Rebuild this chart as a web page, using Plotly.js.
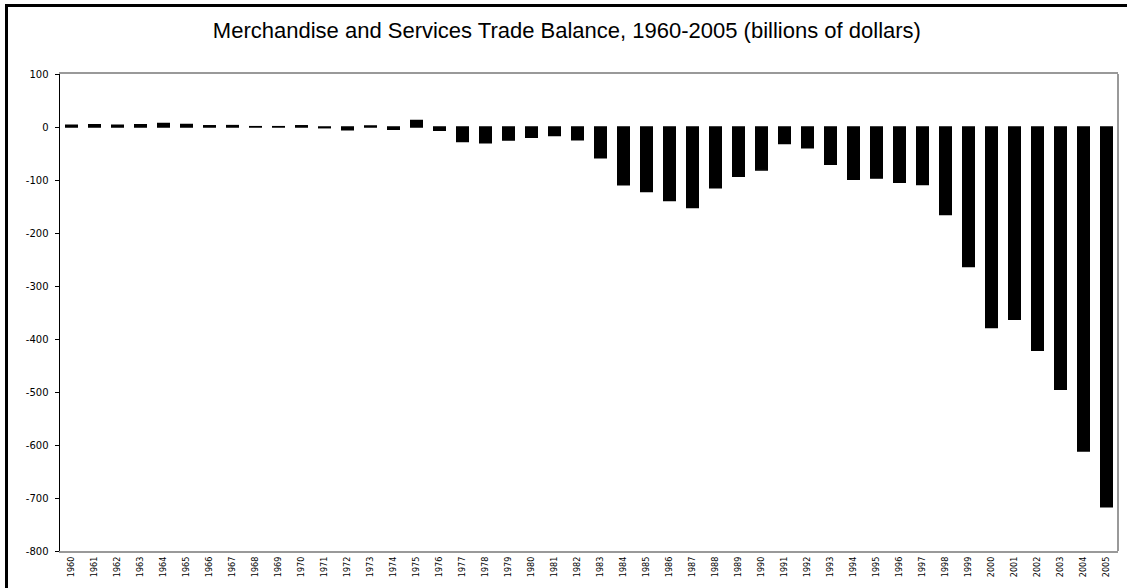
<!DOCTYPE html>
<html>
<head>
<meta charset="utf-8">
<script src="https://cdn.plot.ly/plotly-3.0.1.min.js"></script>
<style>
html, body { margin: 0; padding: 0; overflow: hidden; background: #fff; }
#chart { position: absolute; left: 0; top: 0; width: 1127px; height: 588px; }
#frame { position: absolute; left: 5px; top: 4px; width: 1200px; height: 700px;
  border-left: 3px solid #000; border-top: 3px solid #000; pointer-events: none; }
</style>
</head>
<body>
<div id="chart"></div>
<div id="frame"></div>
<script>
const years = ["1960","1961","1962","1963","1964","1965","1966","1967","1968","1969",
  "1970","1971","1972","1973","1974","1975","1976","1977","1978","1979",
  "1980","1981","1982","1983","1984","1985","1986","1987","1988","1989",
  "1990","1991","1992","1993","1994","1995","1996","1997","1998","1999",
  "2000","2001","2002","2003","2004","2005"];
const balance = [3.5, 4.2, 3.4, 4.2, 6.8, 4.9, 2.3, 2.6, 0.6, 0.6,
  2.3, -1.3, -5.4, 1.9, -4.3, 12.4, -6.1, -27.2, -29.8, -24.6,
  -19.4, -16.2, -24.2, -57.8, -109.1, -121.9, -138.5, -151.7, -114.6, -93.1,
  -80.9, -31.1, -39.2, -70.3, -98.5, -96.4, -104.1, -108.3, -164.9, -263.2,
  -378.3, -362.7, -421.2, -494.8, -611.3, -716.7];
const yTicks = [100, 0, -100, -200, -300, -400, -500, -600, -700, -800];
const titleText = "Merchandise and Services Trade Balance, 1960-2005 (billions of dollars)";

const trace = {
  type: "bar",
  x: years,
  y: balance,
  marker: { color: "#000000", line: { color: "#000000", width: 1.5 } },
  hoverinfo: "x+y"
};

const layout = {
  width: 1127,
  height: 588,
  margin: { l: 60, r: 9, t: 74, b: 37, pad: 0 },
  paper_bgcolor: "rgba(0,0,0,0)",
  plot_bgcolor: "#ffffff",
  showlegend: false,
  bargap: 0.5,
  title: {
    text: titleText,
    font: { family: "Liberation Sans, Arial, sans-serif", size: 22, color: "#000" },
    x: 0.503, xanchor: "center",
    y: 1 - 30 / 588, yanchor: "middle", yref: "container"
  },
  xaxis: {
    type: "category",
    showline: true, linecolor: "#999999", linewidth: 2, mirror: true,
    showgrid: false, zeroline: false,
    ticks: "", tickangle: -90,
    tickfont: { family: "DejaVu Sans Condensed, sans-serif", size: 9, color: "#000" },
    automargin: false
  },
  yaxis: {
    range: [-800, 100],
    tickvals: yTicks,
    ticktext: yTicks.map(String),
    showline: true, linecolor: "#000000", linewidth: 1.5,
    showgrid: false, zeroline: false,
    ticks: "outside", ticklen: 4, tickcolor: "#000", tickwidth: 1,
    ticklabelstandoff: 4,
    tickfont: { family: "DejaVu Sans, Verdana, sans-serif", size: 10, color: "#000" },
    automargin: false
  },
  shapes: [
    { type: "line", xref: "paper", yref: "paper", x0: 1, x1: 1, y0: 0, y1: 1,
      line: { color: "#999999", width: 2 } }
  ]
};

Plotly.newPlot("chart", [trace], layout, { displayModeBar: false, staticPlot: true });
</script>
</body>
</html>
